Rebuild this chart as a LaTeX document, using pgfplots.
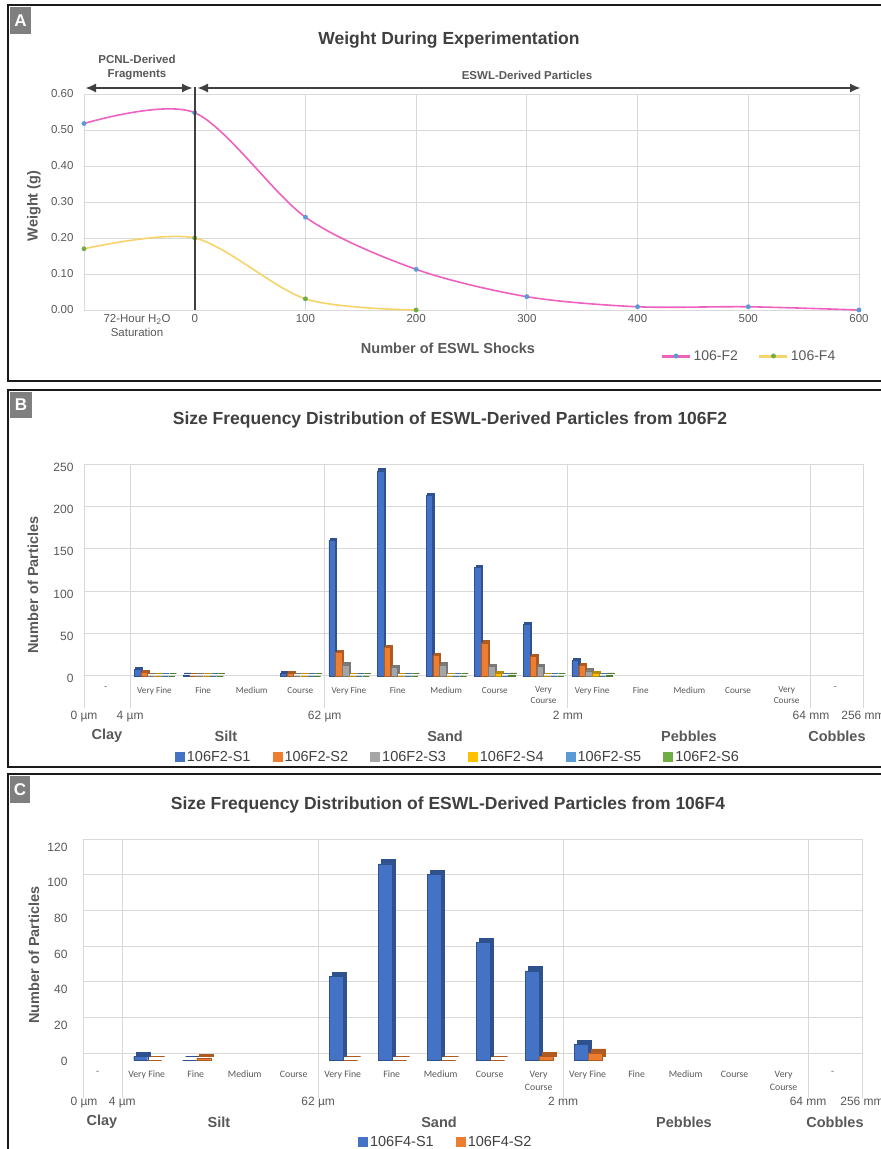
\documentclass[border=0pt]{standalone}
\usepackage{pgfplots}
\usepackage{pgfplotstable}
\pgfplotsset{compat=1.18}
\usepackage{fontspec}
\setmainfont{Liberation Sans}
\newfontfamily\carl{Carlito}
\usetikzlibrary{arrows.meta}

\definecolor{titlegray}{HTML}{404040}
\definecolor{labgray}{HTML}{595959}
\definecolor{gridgray}{HTML}{D9D9D9}
\definecolor{darkline}{HTML}{404040}
\definecolor{boxgray}{HTML}{7F7F7F}
\definecolor{framec}{HTML}{1A1A1A}
\definecolor{pinkc}{RGB}{238,98,190}
\definecolor{yellowc}{RGB}{247,212,105}
\definecolor{mblue}{HTML}{5B9BD5}
\definecolor{mgreen}{HTML}{70AD47}
\definecolor{c1}{HTML}{4472C4}\definecolor{d1}{HTML}{2F528F}
\definecolor{c2}{HTML}{ED7D31}\definecolor{d2}{HTML}{AE5A21}
\definecolor{c3}{HTML}{A5A5A5}\definecolor{d3}{HTML}{787878}
\definecolor{c4}{HTML}{FFC000}\definecolor{d4}{HTML}{BC8C00}
\definecolor{c5}{HTML}{5B9BD5}\definecolor{d5}{HTML}{41719C}
\definecolor{c6}{HTML}{70AD47}\definecolor{d6}{HTML}{507E32}

\newcommand\fs[2]{\fontsize{#1pt}{#2pt}\selectfont}
\tikzset{catlab/.style={anchor=north, align=center, text=labgray, inner sep=0pt}}

% table, column, light, dark, front shift, shadow shift, front yshift, shadow yshift, bar width
\newcommand\bpair[9]{%
\addplot[ybar, bar width=#9, bar shift=#6, yshift=#8, fill=#4, draw=#4, line width=0.8pt, forget plot] table[x=x,y=#2] {#1};
\addplot[ybar, bar width=#9, bar shift=#5, yshift=#7, fill=#3, draw=#4, line width=0.4pt, forget plot] table[x=x,y=#2] {#1};}

\newcommand\catnodes[2]{%
\node[catlab,font=#2] at (axis cs:0.5,#1) {-};
\node[catlab,font=#2] at (axis cs:1.5,#1) {Very Fine};
\node[catlab,font=#2] at (axis cs:2.5,#1) {Fine};
\node[catlab,font=#2] at (axis cs:3.5,#1) {Medium};
\node[catlab,font=#2] at (axis cs:4.5,#1) {Course};
\node[catlab,font=#2] at (axis cs:5.5,#1) {Very Fine};
\node[catlab,font=#2] at (axis cs:6.5,#1) {Fine};
\node[catlab,font=#2] at (axis cs:7.5,#1) {Medium};
\node[catlab,font=#2] at (axis cs:8.5,#1) {Course};
\node[catlab,font=#2] at (axis cs:9.5,#1) {Very\\Course};
\node[catlab,font=#2] at (axis cs:10.5,#1) {Very Fine};
\node[catlab,font=#2] at (axis cs:11.5,#1) {Fine};
\node[catlab,font=#2] at (axis cs:12.5,#1) {Medium};
\node[catlab,font=#2] at (axis cs:13.5,#1) {Course};
\node[catlab,font=#2] at (axis cs:14.5,#1) {Very\\Course};
\node[catlab,font=#2] at (axis cs:15.5,#1) {-};}

\pgfplotstableread{
x s1 s2 s3 s4 s5 s6
1.5 8 4 0 0 0 0
2.5 1 0 0 0 0 0
4.5 3 3 0 0 0 0
5.5 160 28 13 0 0 0
6.5 242 34 10 0 0 0
7.5 213 24 13 0 0 0
8.5 128 39 11 3 0 1
9.5 61 23 11 0 0 0
10.5 18 12 6 3 0 1
}\Btab

\pgfplotstableread{
x s1 s2
1.5 2 0
2.5 0 1
5.5 47 0
6.5 110 0
7.5 104 0
8.5 66 0
9.5 50 2
10.5 9 4
}\Ctab

\begin{document}
\begin{tikzpicture}
\useasboundingbox (0pt,0pt) rectangle (881pt,-1149pt);
\fill[white] (0pt,0pt) rectangle (881pt,-1149pt);

% ---------------- Panel A ----------------
\draw[framec, line width=2pt] (8pt,-5pt) rectangle (886pt,-381pt);
\fill[boxgray] (10pt,-7pt) rectangle (31pt,-34pt);
\node[white, font=\bfseries\fs{17}{20}] at (20.5pt,-20.5pt) {A};

\begin{axis}[
  at={(84pt,-310pt)}, anchor=south west, scale only axis,
  width=775pt, height=216pt,
  xmin=-100, xmax=600, ymin=0, ymax=0.6,
  xtick={-100,0,100,200,300,400,500,600},
  xticklabels={,0,100,200,300,400,500,600},
  ytick={0,0.1,0.2,0.3,0.4,0.5,0.6},
  yticklabels={0.00,0.10,0.20,0.30,0.40,0.50,0.60},
  grid=major, major grid style={draw=gridgray, line width=1pt},
  axis line style={draw=none}, major tick length=0pt,
  tick label style={font=\fs{11.5}{13}, text=labgray},
  yticklabel style={xshift=-7pt},
  xticklabel style={yshift=-1pt},
  clip=false,
  legend style={at={(axis description cs:0.858,-0.213)}, anchor=center,
    draw=none, fill=none, font=\fs{14}{16}, text=labgray,
    /tikz/every even column/.append style={column sep=18pt}},
  legend columns=2,
  legend image code/.code={\draw[mark repeat=2,mark phase=2,#1,line width=3pt] plot coordinates {(0pt,0pt)(14pt,0pt)(28pt,0pt)};},
]
\addplot[color=pinkc, line width=1.6pt, smooth, mark=*, mark size=2.2pt,
  mark options={fill=mblue, draw=mblue, line width=0.4pt}]
  coordinates {(-100,0.518)(0,0.548)(100,0.258)(200,0.113)(300,0.037)(400,0.009)(500,0.009)(600,0.0)};
\addlegendentry{106-F2}
\addplot[color=yellowc, line width=1.6pt, smooth, mark=*, mark size=2.2pt,
  mark options={fill=mgreen, draw=mgreen, line width=0.4pt}]
  coordinates {(-100,0.170)(0,0.200)(100,0.031)(200,0.0)};
\addlegendentry{106-F4}
\end{axis}

\draw[darkline, line width=2pt] (194.7pt,-310pt) -- (194.7pt,-87pt);
\draw[darkline, line width=2.5pt, {Latex[length=11pt,width=9pt]}-{Latex[length=11pt,width=9pt]}] (85pt,-88pt) -- (193pt,-88pt);
\draw[darkline, line width=2.5pt, {Latex[length=11pt,width=9pt]}-{Latex[length=11pt,width=9pt]}] (197pt,-88pt) -- (861pt,-88pt);
\node[text=titlegray, font=\bfseries\fs{17.5}{20}] at (449pt,-40pt) {Weight During Experimentation};
\node[text=labgray, align=center, font=\bfseries\fs{11.5}{14}] at (137pt,-68pt) {PCNL-Derived\\Fragments};
\node[text=labgray, font=\bfseries\fs{11.5}{14}] at (527pt,-75pt) {ESWL-Derived Particles};
\node[text=labgray, align=center, font=\fs{11.5}{14}] at (137pt,-326pt) {72-Hour H\textsubscript{2}O\\Saturation};
\node[text=labgray, font=\bfseries\fs{14.5}{17}] at (448pt,-348pt) {Number of ESWL Shocks};
\node[text=labgray, font=\bfseries\fs{14.5}{17}, rotate=90] at (34pt,-206pt) {Weight (g)};

% ---------------- Panel B ----------------
\draw[framec, line width=2pt] (8pt,-390pt) rectangle (886pt,-767pt);
\fill[boxgray] (10pt,-392pt) rectangle (32pt,-418pt);
\node[white, font=\bfseries\fs{17}{20}] at (21pt,-405pt) {B};

\begin{axis}[
  at={(84pt,-708pt)}, anchor=south west, scale only axis,
  width=779pt, height=244pt,
  xmin=0.05, xmax=16.07, ymin=-38, ymax=250,
  xtick={0.05,1,5,10,15,16.07},
  xticklabels={0 µm,4 µm,62 µm,2 mm,64 mm,256 mm},
  ytick={0,50,100,150,200,250},
  yticklabels={0,50,100,150,200,250},
  grid=major, major grid style={draw=gridgray, line width=1pt},
  axis line style={draw=none}, major tick length=0pt,
  tick label style={font=\fs{12}{14}, text=labgray},
  yticklabel style={xshift=-7pt, yshift=-3pt},
  clip=false,
  legend style={at={(axis description cs:0.48,-0.2)}, anchor=center,
    draw=none, fill=none, font=\fs{14.5}{16}, text=titlegray,
    /tikz/every even column/.append style={column sep=20pt}},
  legend columns=6,
  legend image code/.code={\fill[#1, draw=none] (0pt,-5pt) rectangle (10pt,5pt);},
]
\bpair{\Btab}{s1}{c1}{d1}{-17pt}{-15.5pt}{0pt}{2pt}{6.5pt}
\bpair{\Btab}{s2}{c2}{d2}{-10.2pt}{-8.7pt}{0pt}{2pt}{6.5pt}
\bpair{\Btab}{s3}{c3}{d3}{-3.4pt}{-1.9pt}{0pt}{2pt}{6.5pt}
\bpair{\Btab}{s4}{c4}{d4}{3.4pt}{4.9pt}{0pt}{2pt}{6.5pt}
\bpair{\Btab}{s5}{c5}{d5}{10.2pt}{11.7pt}{0pt}{2pt}{6.5pt}
\bpair{\Btab}{s6}{c6}{d6}{17pt}{18.5pt}{0pt}{2pt}{6.5pt}
\addlegendimage{fill=c1}\addlegendentry{106F2-S1}
\addlegendimage{fill=c2}\addlegendentry{106F2-S2}
\addlegendimage{fill=c3}\addlegendentry{106F2-S3}
\addlegendimage{fill=c4}\addlegendentry{106F2-S4}
\addlegendimage{fill=c5}\addlegendentry{106F2-S5}
\addlegendimage{fill=c6}\addlegendentry{106F2-S6}
\catnodes{-13}{\fs{9.2}{11}\carl}
\end{axis}

\node[text=titlegray, font=\bfseries\fs{17.5}{20}] at (450pt,-420pt) {Size Frequency Distribution of ESWL-Derived Particles from 106F2};
\node[text=labgray, font=\bfseries\fs{14.5}{17}, rotate=90] at (33pt,-585pt) {Number of Particles};
\node[text=labgray, font=\bfseries\fs{14.5}{17}] at (107pt,-736pt) {Clay};
\node[text=labgray, font=\bfseries\fs{14.5}{17}] at (226pt,-736pt) {Silt};
\node[text=labgray, font=\bfseries\fs{14.5}{17}] at (445pt,-736pt) {Sand};
\node[text=labgray, font=\bfseries\fs{14.5}{17}] at (689pt,-736pt) {Pebbles};
\node[text=labgray, font=\bfseries\fs{14.5}{17}] at (837pt,-736pt) {Cobbles};

% ---------------- Panel C ----------------
\draw[framec, line width=2pt] (8pt,-774pt) rectangle (886pt,-1155pt);
\fill[boxgray] (10pt,-776pt) rectangle (30pt,-803pt);
\node[white, font=\bfseries\fs{17}{20}] at (20pt,-789.5pt) {C};

\begin{axis}[
  at={(84pt,-1098pt)}, anchor=south west, scale only axis,
  width=778pt, height=259pt,
  xmin=0.22, xmax=16.1, ymin=-25.2, ymax=120,
  xtick={0.22,1,5,10,15,16.1},
  xticklabels={0 µm,4 µm,62 µm,2 mm,64 mm,256 mm},
  ytick={0,20,40,60,80,100,120},
  yticklabels={0,20,40,60,80,100,120},
  grid=major, major grid style={draw=gridgray, line width=1pt},
  axis line style={draw=none}, major tick length=0pt,
  tick label style={font=\fs{12}{14}, text=labgray},
  yticklabel style={xshift=-13pt, yshift=-8pt},
  xticklabel style={yshift=4pt},
  clip=false,
  legend style={at={(axis description cs:0.465,-0.17)}, anchor=center,
    draw=none, fill=none, font=\fs{14.5}{16}, text=titlegray,
    /tikz/every even column/.append style={column sep=20pt}},
  legend columns=2,
  legend image code/.code={\fill[#1, draw=none] (0pt,-5pt) rectangle (10pt,5pt);},
]
\bpair{\Ctab}{s1}{c1}{d1}{-6pt}{-3pt}{-7pt}{-3pt}{14pt}
\bpair{\Ctab}{s2}{c2}{d2}{8pt}{11pt}{-7pt}{-3pt}{14pt}
\addlegendimage{fill=c1}\addlegendentry{106F4-S1}
\addlegendimage{fill=c2}\addlegendentry{106F4-S2}
\catnodes{-10}{\fs{9.8}{13}\carl}
\end{axis}

\node[text=titlegray, font=\bfseries\fs{17.5}{20}] at (448pt,-805pt) {Size Frequency Distribution of ESWL-Derived Particles from 106F4};
\node[text=labgray, font=\bfseries\fs{14.5}{17}, rotate=90] at (34pt,-955pt) {Number of Particles};
\node[text=labgray, font=\bfseries\fs{14.5}{17}] at (102pt,-1122pt) {Clay};
\node[text=labgray, font=\bfseries\fs{14.5}{17}] at (219pt,-1122pt) {Silt};
\node[text=labgray, font=\bfseries\fs{14.5}{17}] at (439pt,-1122pt) {Sand};
\node[text=labgray, font=\bfseries\fs{14.5}{17}] at (684pt,-1122pt) {Pebbles};
\node[text=labgray, font=\bfseries\fs{14.5}{17}] at (835pt,-1122pt) {Cobbles};
\end{tikzpicture}
\end{document}
